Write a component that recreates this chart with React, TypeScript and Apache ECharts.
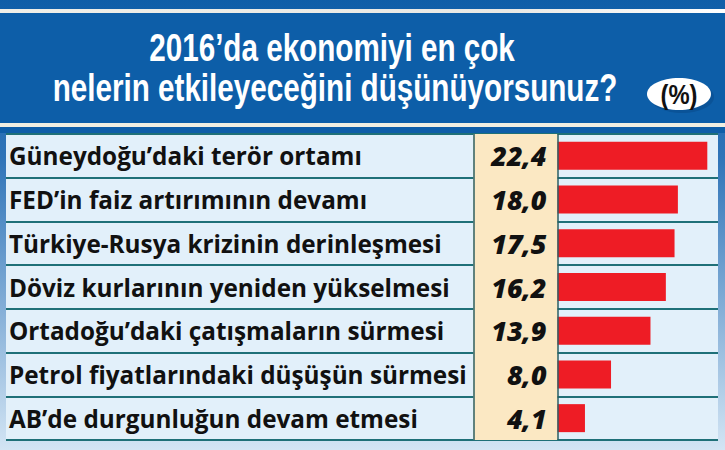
import React, { useEffect, useRef } from "react";
import * as echarts from "echarts";

const categories = [
  "Güneydoğu’daki terör ortamı",
  "FED’in faiz artırımının devamı",
  "Türkiye-Rusya krizinin derinleşmesi",
  "Döviz kurlarının yeniden yükselmesi",
  "Ortadoğu’daki çatışmaların sürmesi",
  "Petrol fiyatlarındaki düşüşün sürmesi",
  "AB’de durgunluğun devam etmesi",
];
const values = [22.4, 18.0, 17.5, 16.2, 13.9, 8.0, 4.1];
const titleLines = ["2016’da ekonomiyi en çok", "nelerin etkileyeceğini düşünüyorsunuz?"];
const unitLabel = "(%)";

export default function App() {
  const ref = useRef<HTMLDivElement>(null);
  useEffect(() => {
    document.body.style.margin = "0";
    const chart = echarts.init(ref.current!, null, { renderer: "svg" });
    const fmt = (v: number) => v.toFixed(1).replace(".", ",");
    const titleFont = "bold 38px 'Liberation Sans', Arial, sans-serif";
    chart.setOption({
      animation: false,
      graphic: [
        { type: "rect", z: -10, shape: { x: 0, y: 0, width: 725, height: 450 },
          style: { fill: new echarts.graphic.LinearGradient(0, 0, 0, 1, [
            { offset: 0, color: "#0f5ea8" }, { offset: 0.35, color: "#2f74b8" }, { offset: 1, color: "#d3e5f4" }]) } },
        { type: "rect", z: -9, shape: { x: 0, y: 9, width: 725, height: 4 },
          style: { fill: new echarts.graphic.LinearGradient(0, 0, 1, 0, [
            { offset: 0, color: "#f0efe8" }, { offset: 0.7, color: "#e8e8e4" }, { offset: 1, color: "#ffffff" }]) } },
        { type: "rect", z: -9, shape: { x: 0, y: 13, width: 725, height: 110 }, style: { fill: "#0d5ea8" } },
        { type: "rect", z: -9, shape: { x: 0, y: 123, width: 725, height: 4 }, style: { fill: "#f1efe2" } },
        { type: "rect", z: -9, shape: { x: 0, y: 127, width: 725, height: 6 }, style: { fill: "#0f5ea8" } },
        { type: "text", z: 5, x: 332, y: 48, scaleX: 0.78,
          style: { text: titleLines[0], fill: "#ffffff", font: titleFont, align: "center", verticalAlign: "middle" } },
        { type: "text", z: 5, x: 335, y: 88, scaleX: 0.78,
          style: { text: titleLines[1], fill: "#ffffff", font: titleFont, align: "center", verticalAlign: "middle" } },
        { type: "ellipse", z: 4, shape: { cx: 682, cy: 97, rx: 32, ry: 16 }, style: { fill: "#0a4a8a", opacity: 0.55 } },
        { type: "ellipse", z: 5, shape: { cx: 679, cy: 94, rx: 32, ry: 16 }, style: { fill: "#ffffff" } },
        { type: "text", z: 6, x: 679, y: 94, scaleX: 0.85,
          style: { text: unitLabel, fill: "#111111", font: "bold 28px 'Liberation Sans', Arial, sans-serif",
            align: "center", verticalAlign: "middle" } },
      ],
      grid: { left: 6, right: 7, top: 134, bottom: 10, show: true, backgroundColor: "#e2f0fa", borderWidth: 0 },
      xAxis: { type: "value", min: -82.5, max: 24, show: false },
      yAxis: {
        type: "category", inverse: true, data: categories,
        axisLine: { show: false }, axisTick: { show: false },
        axisLabel: { inside: true, margin: 3, color: "#111111", fontFamily: "Open Sans", fontWeight: "bold", fontSize: 24.3 },
        splitLine: { show: true, lineStyle: { color: "#1f7078", width: 2 } },
      },
      series: [
        {
          type: "bar", data: values, barWidth: 28, z: 3,
          itemStyle: { color: "#ee1c25" },
          label: { show: true, position: "left", distance: 11, formatter: (p: any) => fmt(p.value),
            color: "#111111", fontFamily: "Open Sans", fontWeight: 800, fontStyle: "italic", fontSize: 27 },
          markArea: { silent: true, itemStyle: { color: "#fbe8c3" }, data: [[{ xAxis: -12.6 }, { xAxis: 0 }]] },
          markLine: { silent: true, symbol: "none", label: { show: false },
            lineStyle: { color: "#2d5f62", width: 1.5, type: "solid" },
            data: [{ xAxis: -12.6 }, { xAxis: 0 }] },
        },
      ],
    });
    return () => chart.dispose();
  }, []);
  return <div ref={ref} style={{ width: 725, height: 450 }} />;
}
